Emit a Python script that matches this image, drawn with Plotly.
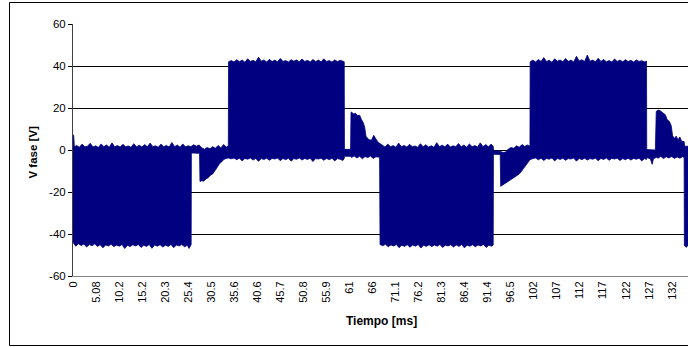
import plotly.graph_objects as go

# Phase voltage (V) envelope of the PWM waveform, time in ms
upper_t = [
    0, 0.15, 0.3, 0.8, 1.4, 2.0, 2.6, 3.2, 3.8, 4.4, 5.0, 5.6, 6.2, 6.8, 7.4, 8.0, 8.6, 9.2, 9.8,
    10.4, 11.0, 11.6, 12.2, 12.8, 13.4, 14.0, 14.6, 15.2, 15.8, 16.4, 17.0, 17.6, 18.2, 18.8, 19.4,
    20.0, 20.6, 21.2, 21.8, 22.4, 23.0, 23.6, 24.2, 24.8, 25.4, 26.0,
    26.6, 27.2, 27.8,
    28.4, 29.0, 29.6, 30.2, 30.8, 31.4, 32.0, 32.6, 33.2, 33.8, 34.25,
    34.3, 34.9, 35.5, 36.1, 36.7, 37.3, 37.9, 38.5, 39.1, 39.7, 40.3, 40.9, 41.5, 42.1, 42.7, 43.3,
    43.9, 44.5, 45.1, 45.7, 46.3, 46.9, 47.5, 48.1, 48.7, 49.3, 49.9, 50.5, 51.1, 51.7, 52.3, 52.9,
    53.5, 54.1, 54.7, 55.3, 55.9, 56.5, 57.1, 57.7, 58.3, 58.9, 59.5, 59.8,
    59.85, 61.2,
    61.3, 61.4, 61.9, 62.3, 62.8, 63.2, 63.6, 64.0, 64.3, 64.6, 65.2, 65.8, 66.3, 66.7, 67.1, 67.6,
    68.2, 68.8, 69.4, 70.0, 70.6, 71.2, 71.8, 72.4, 73.0, 73.6, 74.2, 74.8, 75.4, 76.0, 76.6, 77.2,
    77.8, 78.4, 79.0, 79.6, 80.2, 80.8, 81.4, 82.0, 82.6, 83.2, 83.8, 84.4, 85.0, 85.6, 86.2, 86.8,
    87.4, 88.0, 88.6, 89.2, 89.8, 90.4, 91.0, 91.6, 92.2, 92.65,
    92.75, 94.2,
    94.8, 95.4, 96.0, 96.6, 97.2, 97.8, 98.4, 99.0, 99.6, 100.2, 100.75,
    100.8, 101.4, 102.0, 102.6, 103.2, 103.8, 104.4, 105.0, 105.6, 106.2, 106.8, 107.4, 108.0, 108.6,
    109.2, 109.8, 110.4, 111.0, 111.6, 112.2, 112.8, 113.4, 114.0, 114.6, 115.2, 115.8, 116.4, 117.0,
    117.6, 118.2, 118.8, 119.4, 120.0, 120.6, 121.2, 121.8, 122.4, 123.0, 123.6, 124.2, 124.8, 125.4,
    126.0, 126.45,
    126.5, 128.4,
    128.5, 128.6, 129.1, 129.6, 130.1, 130.6, 131.0, 131.5, 131.9, 132.2, 132.6, 133.0, 133.4, 133.8,
    134.2, 134.75,
    134.85, 135.6,
]
upper_v = [
    7.3, 7.0, 1.5, 2.2, 1.3, 2.8, 1.5, 1.8, 3.2, 1.4, 2.0, 1.2, 2.9, 1.6, 2.4, 1.3, 3.4, 1.5, 2.1,
    1.4, 2.7, 1.6, 1.9, 1.3, 3.0, 1.5, 2.3, 1.4, 2.6, 1.5, 3.3, 1.6, 2.0, 1.3, 2.8,
    1.5, 2.2, 1.4, 3.6, 1.6, 2.4, 1.3, 2.9, 1.5, 2.0, 1.6,
    2.5, 1.8, 2.4,
    1.0, 0.4, 1.2, 0.6, 1.6, 0.8, 2.2, 1.0, 2.6, 1.4, 2.0,
    42.0, 42.6, 41.9, 43.0, 42.1, 42.8, 41.8, 43.4, 42.2, 42.7, 42.0, 44.2, 42.3, 42.9, 41.9, 43.2,
    42.1, 42.8, 42.0, 43.6, 42.2, 42.6, 41.9, 43.0, 42.3, 42.9, 42.0, 43.3, 42.2, 42.7, 41.9, 43.1,
    42.1, 42.8, 42.0, 43.4, 42.2, 42.6, 41.9, 42.9, 42.1, 42.7, 42.3, 42.0,
    0.3, 0.3,
    18.0, 18.0, 17.2, 17.5, 16.3, 16.6, 14.5, 13.0, 11.0, 6.5, 5.0, 4.6, 7.0, 5.5, 4.2, 3.2,
    2.4, 1.4, 2.8, 1.6, 2.1, 1.3, 3.3, 1.5, 2.2, 1.4, 2.7, 1.6, 1.9, 1.3, 3.0, 1.5,
    2.5, 1.4, 2.0, 1.3, 3.5, 1.6, 2.3, 1.5, 2.8, 1.4, 2.0, 1.6, 3.1, 1.5, 2.4, 1.3,
    2.9, 1.6, 2.1, 1.4, 3.4, 1.6, 2.6, 1.5, 2.8, 1.8,
    -0.3, -0.6,
    -1.2, -1.0, 0.5, 1.2, 0.8, 2.0, 1.3, 2.6, 1.7, 2.4, 1.8,
    42.0, 42.8, 41.9, 43.1, 42.2, 44.0, 42.1, 42.7, 41.8, 43.4, 42.3, 42.9, 42.0, 43.6,
    42.2, 42.8, 41.9, 44.6, 42.4, 43.0, 42.1, 45.2, 42.3, 42.8, 42.0, 43.7, 42.2, 43.1,
    42.0, 42.6, 41.9, 43.3, 42.2, 42.8, 42.0, 43.0, 42.1, 42.7, 41.9, 42.9, 42.2, 42.5,
    42.0, 42.3,
    0.2, 0.0,
    18.4, 18.4, 19.0, 18.5, 17.6, 16.8, 14.5, 13.6, 11.5, 6.8, 5.5, 6.6, 4.8, 6.2,
    4.2, 4.0,
    1.8, 1.8,
]

lower_t = [
    0, 0.6, 1.2, 1.8, 2.4, 3.0, 3.6, 4.2, 4.8, 5.4, 6.0, 6.6, 7.2, 7.8, 8.4, 9.0, 9.6, 10.2, 10.8,
    11.4, 12.0, 12.6, 13.2, 13.8, 14.4, 15.0, 15.6, 16.2, 16.8, 17.4, 18.0, 18.6, 19.2, 19.8, 20.4,
    21.0, 21.6, 22.2, 22.8, 23.4, 24.0, 24.6, 25.2, 25.6, 26.05,
    26.1, 27.9,
    28.0, 28.4, 28.8, 29.3, 29.8, 30.3, 30.8, 31.3, 31.8, 32.3, 32.8, 33.3, 33.8, 34.25,
    34.9, 35.5, 36.1, 36.7, 37.3, 37.9, 38.5, 39.1, 39.7, 40.3, 40.9, 41.5, 42.1, 42.7, 43.3, 43.9,
    44.5, 45.1, 45.7, 46.3, 46.9, 47.5, 48.1, 48.7, 49.3, 49.9, 50.5, 51.1, 51.7, 52.3, 52.9, 53.5,
    54.1, 54.7, 55.3, 55.9, 56.5, 57.1, 57.7, 58.3, 58.9, 59.5, 59.8,
    59.85, 61.3,
    61.4, 62.0, 62.6, 63.2, 63.8, 64.4, 65.0, 65.6, 66.2, 66.8, 67.6,
    67.7, 68.3, 68.9, 69.5, 70.1, 70.7, 71.3, 71.9, 72.5, 73.1, 73.7, 74.3, 74.9, 75.5, 76.1, 76.7,
    77.3, 77.9, 78.5, 79.1, 79.7, 80.3, 80.9, 81.5, 82.1, 82.7, 83.3, 83.9, 84.5, 85.1, 85.7, 86.3,
    86.9, 87.5, 88.1, 88.7, 89.3, 89.9, 90.5, 91.1, 91.7, 92.3, 92.65,
    92.7, 94.2,
    94.3, 94.8, 95.3, 95.8, 96.3, 96.8, 97.3, 97.8, 98.3, 98.8, 99.3, 99.8, 100.3, 100.75,
    101.4, 102.0, 102.6, 103.2, 103.8, 104.4, 105.0, 105.6, 106.2, 106.8, 107.4, 108.0, 108.6, 109.2,
    109.8, 110.4, 111.0, 111.6, 112.2, 112.8, 113.4, 114.0, 114.6, 115.2, 115.8, 116.4, 117.0, 117.6,
    118.2, 118.8, 119.4, 120.0, 120.6, 121.2, 121.8, 122.4, 123.0, 123.6, 124.2, 124.8, 125.4, 126.0,
    126.45,
    126.5, 127.3, 127.7, 128.0, 128.45,
    128.5, 129.0, 129.6, 130.2, 130.8, 131.4, 132.0, 132.6, 133.2, 133.8, 134.4, 134.75,
    134.8, 135.2, 135.6,
]
lower_v = [
    -44.0, -45.8, -44.6, -45.5, -44.8, -46.2, -45.0, -45.6, -44.7, -45.9, -45.1, -46.6, -45.2, -45.7,
    -44.9, -46.0, -45.3, -45.8, -45.0, -46.9, -45.4, -46.0, -45.1, -45.7, -45.0, -46.4, -45.3, -45.9,
    -45.0, -46.8, -45.2, -45.8, -45.1, -46.2, -45.3, -45.9, -45.0, -46.5, -45.2, -45.7, -45.0, -46.1,
    -45.4, -46.9, -45.0,
    -1.4, -1.6,
    -15.0, -14.6, -14.9, -13.8, -13.2, -12.0, -11.4, -9.6, -8.2, -6.5, -5.6, -4.4, -4.0, -3.8,
    -4.2, -3.8, -4.6, -3.9, -5.2, -4.0, -4.4, -3.8, -4.8, -4.0, -5.4, -4.1, -4.5, -3.9, -4.9, -4.0,
    -4.3, -3.8, -5.1, -4.0, -4.6, -3.9, -5.3, -4.1, -4.4, -3.8, -4.8, -4.0, -4.5, -3.9, -5.5, -4.1,
    -4.3, -3.9, -4.9, -4.0, -4.6, -3.9, -5.2, -4.1, -4.4, -5.0, -4.0,
    -3.0, -3.0,
    -3.6, -2.8, -3.8, -3.0, -4.2, -3.1, -3.6, -2.9, -4.0, -3.2, -3.5,
    -45.0, -45.6, -44.9, -46.1, -45.2, -45.7, -45.0, -46.5, -45.3, -45.9, -45.1, -46.3, -45.2, -45.8,
    -45.0, -46.7, -45.3, -45.9, -45.1, -46.0, -45.2, -45.8, -45.0, -46.4, -45.3, -45.7, -45.1, -46.2,
    -45.2, -45.9, -45.0, -46.6, -45.3, -45.8, -45.1, -46.1, -45.2, -45.7, -45.0, -46.4, -45.3, -45.8,
    -45.2,
    -2.0, -2.2,
    -17.3, -16.6, -16.0, -15.2, -14.4, -13.6, -13.0, -12.3, -11.6, -10.4, -9.0, -7.6, -6.0, -4.6,
    -4.1, -3.8, -4.7, -3.9, -5.0, -4.0, -4.4, -3.8, -5.2, -4.0, -4.5, -3.9, -4.9, -4.1,
    -4.3, -3.8, -5.3, -4.0, -4.6, -3.9, -4.8, -4.1, -4.4, -3.9, -5.1, -4.0, -4.5, -3.8,
    -4.9, -4.0, -4.3, -3.9, -5.0, -4.1, -4.6, -3.9, -4.8, -4.0, -4.4, -3.9, -5.2, -4.1,
    -4.5,
    -3.6, -4.2, -6.8, -4.0, -3.8,
    -3.2, -3.9, -3.0, -4.1, -3.2, -3.8, -3.1, -4.0, -3.3, -3.9, -3.2, -3.6,
    -45.5, -46.3, -45.5,
]

# Category-axis labels (every 5.08 ms)
tick_step = 5.08
tick_text = ["0", "5.08", "10.2", "15.2", "20.3", "25.4", "30.5", "35.6", "40.6", "45.7",
             "50.8", "55.9", "61", "66", "71.1", "76.2", "81.3", "86.4", "91.4", "96.5",
             "102", "107", "112", "117", "122", "127", "132"]
tick_vals = [i * tick_step for i in range(len(tick_text))]

y_ticks = [-60, -40, -20, 0, 20, 40, 60]

NAVY = "#000080"
FONT = "Liberation Sans, Arial, sans-serif"

# closed band: upper edge left-to-right, lower edge right-to-left
poly_x = upper_t + lower_t[::-1]
poly_y = upper_v + lower_v[::-1]

fig = go.Figure()
fig.add_trace(go.Scatter(
    x=poly_x, y=poly_y, mode="lines", fill="toself",
    fillcolor=NAVY, line=dict(color=NAVY, width=0.8),
    showlegend=False,
))

W, H = 688, 347
L, R, T, B = 73, 0, 24, 71
pw, ph = W - L - R, H - T - B


def px_x(x):
    return (x - L) / pw


def px_y(y):
    return (H - B - y) / ph


# chart-area frame: left, top and bottom edges (the right edge lies past the page)
frame_left, frame_top, frame_bottom = 9.5, 2.5, 345.5
frame_lines = [
    (frame_left, frame_top, frame_left, frame_bottom),
    (frame_left, frame_top, W, frame_top),
    (frame_left, frame_bottom, W, frame_bottom),
]
shapes = [
    dict(type="line", xref="paper", yref="paper",
         x0=px_x(a), y0=px_y(b), x1=px_x(c), y1=px_y(d),
         line=dict(color="black", width=1))
    for a, b, c, d in frame_lines
]
# blank strip between the axis labels and the frame at the far right
shapes.append(dict(type="rect", xref="paper", yref="paper", layer="above",
                   x0=px_x(679), x1=px_x(W), y0=px_y(344.5), y1=px_y(304),
                   line=dict(width=0), fillcolor="white"))

fig.update_layout(
    width=W, height=H,
    margin=dict(l=L, r=R, t=T, b=B, pad=0),
    paper_bgcolor="white", plot_bgcolor="white",
    font=dict(family=FONT, color="black", size=11),
    showlegend=False,
    xaxis=dict(
        range=[0, 135.6], tickmode="array", tickvals=tick_vals, ticktext=tick_text,
        tickangle=-90, showgrid=False, zeroline=False,
        showline=True, linecolor="#808080", linewidth=1,
        ticks="", tickfont=dict(family=FONT, size=11, color="black"),
    ),
    yaxis=dict(
        range=[-60, 60], tickmode="array", tickvals=y_ticks,
        ticktext=[str(v) for v in y_ticks],
        showgrid=True, gridcolor="black", gridwidth=1, zeroline=False,
        showline=True, linecolor="#404040", linewidth=1,
        ticks="outside", ticklen=4, tickcolor="black", tickwidth=1,
        tickfont=dict(family=FONT, size=11.5, color="black"),
    ),
    annotations=[
        dict(text="<b>V fase [V]</b>", xref="paper", yref="paper",
             x=px_x(32), y=px_y(152.5), textangle=-90, showarrow=False,
             font=dict(family=FONT, size=11.5, color="black"),
             xanchor="center", yanchor="middle"),
        dict(text="<b>Tiempo [ms]</b>", xref="paper", yref="paper",
             x=px_x(381), y=px_y(321), showarrow=False,
             font=dict(family=FONT, size=12, color="black"),
             xanchor="center", yanchor="middle"),
    ],
    shapes=shapes,
)

fig.write_html("out.html")
